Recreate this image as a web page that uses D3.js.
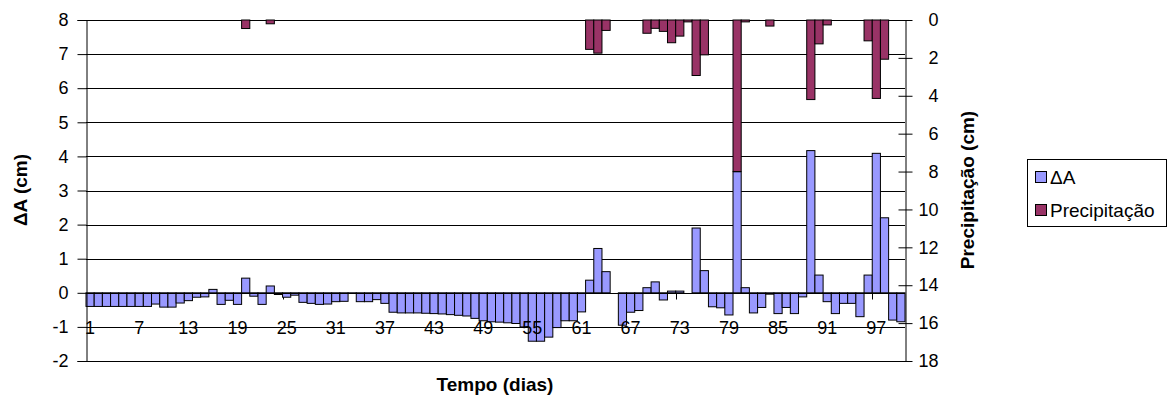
<!DOCTYPE html>
<html><head><meta charset="utf-8">
<script src="https://cdn.jsdelivr.net/npm/d3@7"></script>
<style>body{margin:0;background:#fff}svg{display:block}text{font-family:"Liberation Sans",Arial,sans-serif}</style>
</head><body><svg id="c" width="1171" height="416"></svg>
<script>
const days = d3.range(1, 101);
const deltaA = [-0.4,-0.4,-0.4,-0.4,-0.4,-0.4,-0.4,-0.4,-0.33,-0.42,
-0.42,-0.3,-0.23,-0.13,-0.12,0.1,-0.34,-0.22,-0.34,0.43,
-0.1,-0.34,0.2,-0.05,-0.13,-0.07,-0.28,-0.31,-0.34,-0.33,
-0.26,-0.25,-0.02,-0.26,-0.26,-0.2,-0.31,-0.57,-0.59,-0.59,
-0.59,-0.6,-0.61,-0.62,-0.64,-0.66,-0.68,-0.75,-0.82,-0.85,
-0.86,-0.88,-0.9,-1.0,-1.42,-1.42,-1.3,-1.02,-0.82,-0.82,
-0.56,0.37,1.3,0.62,0,-0.95,-0.57,-0.52,0.15,0.32,
-0.21,0.05,0.05,0,1.9,0.65,-0.41,-0.44,-0.65,3.55,
0.15,-0.59,-0.43,-0.04,-0.61,-0.43,-0.61,-0.12,4.17,0.52,
-0.26,-0.61,-0.31,-0.31,-0.7,0.52,4.09,2.2,-0.8,-0.85];
const precip = [0,0,0,0,0,0,0,0,0,0,
0,0,0,0,0,0,0,0,0,0.45,
0,0,0.2,0,0,0,0,0,0,0,
0,0,0,0,0,0,0,0,0,0,
0,0,0,0,0,0,0,0,0,0,
0,0,0,0,0,0,0,0,0,0,
0,1.55,1.75,0.55,0,0,0,0,0.7,0.44,
0.6,1.2,0.85,0.1,2.93,1.84,0,0,0,8.0,
0.1,0,0,0.32,0,0,0,0,4.2,1.26,
0.26,0,0,0,0,1.1,4.14,2.07,0,0];
const leftTicks = [-2,-1,0,1,2,3,4,5,6,7,8];
const rightTicks = [0,2,4,6,8,10,12,14,16,18];
const xLabelDays = d3.range(1, 101, 6);
const seriesNames = ["\u0394A", "Precipita\u00e7\u00e3o"];
const colors = ["#9999FF", "#993366"];

const L = 86, R = 905, T = 20, B = 361;
const svg = d3.select("#c");
const x = d3.scaleBand().domain(days).range([L, R]).padding(0);
const yL = d3.scaleLinear().domain([-2, 8]).range([B, T]);
const yR = d3.scaleLinear().domain([0, 18]).range([T, B]);
const fmt = d => String(d);

// gridlines
svg.append("g").selectAll("line").data(leftTicks).join("line")
  .attr("x1", L).attr("x2", R)
  .attr("y1", d => Math.round(yL(d)) + 0.5).attr("y2", d => Math.round(yL(d)) + 0.5)
  .attr("stroke", "#000").attr("stroke-width", 1);

// category axis ticks (drawn beneath bars)
const y0 = Math.round(yL(0)) + 0.5;
svg.append("g").selectAll("line").data(xLabelDays).join("line")
  .attr("x1", d => Math.round(x(d)) + 0.5).attr("x2", d => Math.round(x(d)) + 0.5)
  .attr("y1", y0).attr("y2", y0 + 6).attr("stroke", "#000");

// ΔA bars
svg.append("g").selectAll("rect").data(days).join("rect")
  .attr("x", d => x(d)).attr("width", x.bandwidth())
  .attr("y", (d, i) => yL(Math.max(0, deltaA[i])))
  .attr("height", (d, i) => Math.abs(yL(deltaA[i]) - yL(0)))
  .attr("fill", colors[0]).attr("stroke", "#000").attr("stroke-width", 1);

// precipitation bars (secondary axis, inverted)
svg.append("g").selectAll("rect").data(days.filter((d, i) => precip[i] > 0)).join("rect")
  .attr("x", d => x(d)).attr("width", x.bandwidth())
  .attr("y", yR(0))
  .attr("height", d => yR(precip[d - 1]) - yR(0))
  .attr("fill", colors[1]).attr("stroke", "#000").attr("stroke-width", 1);

// zero axis line
svg.append("line").attr("x1", L).attr("x2", R).attr("y1", y0).attr("y2", y0).attr("stroke", "#000");

// left axis
const gl = svg.append("g").attr("transform", `translate(${L + 0.5},0)`)
  .call(d3.axisLeft(yL).tickValues(leftTicks).tickSize(9).tickPadding(9).tickFormat(fmt));
gl.selectAll("text").attr("font-size", 18).attr("fill", "#000");
gl.selectAll("line,path").attr("stroke", "#000");

// right axis
const gr = svg.append("g").attr("transform", `translate(${R + 0.5},0)`)
  .call(d3.axisRight(yR).tickValues(rightTicks).tickSize(0).tickFormat(fmt));
gr.selectAll(".tick line").attr("x1", -7).attr("x2", 7).attr("stroke", "#000");
gr.selectAll("text").attr("font-size", 18).attr("fill", "#000").attr("text-anchor", "end").attr("x", 33);
gr.select("path").attr("stroke", "#000");

// x labels
svg.append("g").selectAll("text").data(xLabelDays).join("text")
  .attr("x", d => x(d) + x.bandwidth() / 2).attr("y", yL(-1) + 7)
  .attr("text-anchor", "middle").attr("font-size", 18).text(fmt);

// titles
svg.append("text").attr("transform", "translate(27,190) rotate(-90)")
  .attr("text-anchor", "middle").attr("font-weight", "bold").attr("font-size", 19).text("\u0394A (cm)");
svg.append("text").attr("transform", "translate(974,190) rotate(-90)")
  .attr("text-anchor", "middle").attr("font-weight", "bold").attr("font-size", 19).text("Precipita\u00e7\u00e3o (cm)");
svg.append("text").attr("x", 495).attr("y", 391)
  .attr("text-anchor", "middle").attr("font-weight", "bold").attr("font-size", 19).text("Tempo (dias)");

// legend
const lg = svg.append("g");
lg.append("rect").attr("x", 1027.5).attr("y", 159.5).attr("width", 139).attr("height", 67)
  .attr("fill", "#fff").attr("stroke", "#000");
seriesNames.forEach((n, i) => {
  lg.append("rect").attr("x", 1035.5).attr("y", 171.5 + i * 33).attr("width", 11).attr("height", 11)
    .attr("fill", colors[i]).attr("stroke", "#000");
  lg.append("text").attr("x", 1050).attr("y", 184 + i * 33).attr("font-size", 19).text(n);
});
</script></body></html>
